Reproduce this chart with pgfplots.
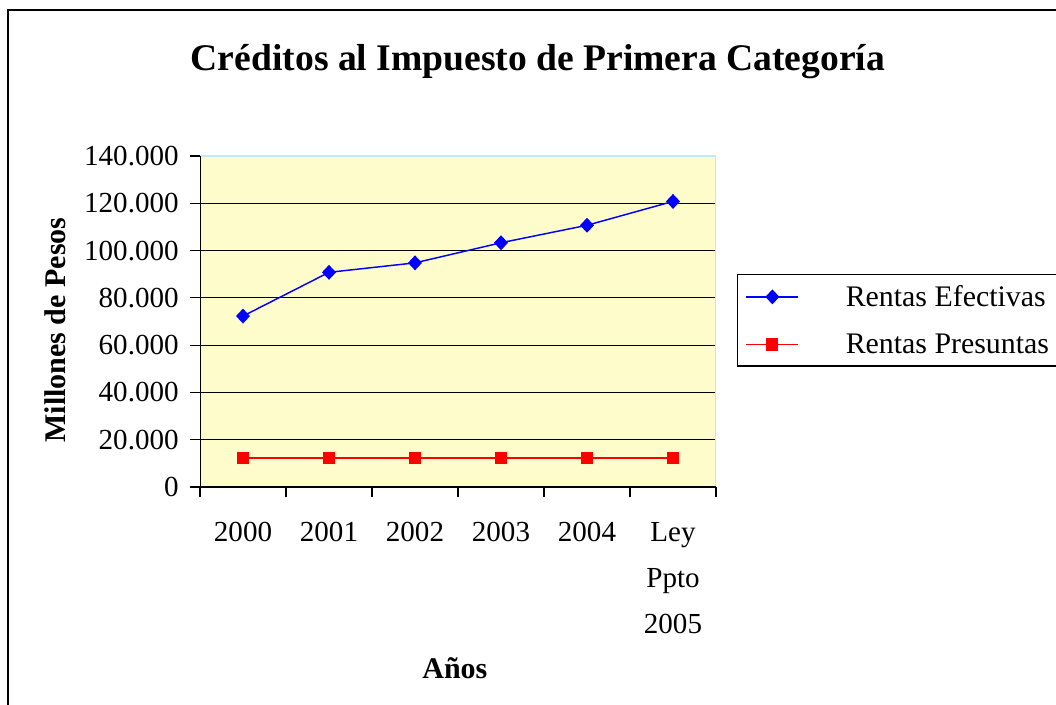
\documentclass[border=0pt]{standalone}
\usepackage{fontspec}
\setmainfont{Liberation Serif}
\usepackage{pgfplots}
\pgfplotsset{compat=1.18}
\begin{document}
\begin{tikzpicture}
\useasboundingbox (0pt,0pt) rectangle (792pt,-528.75pt);
\draw[line width=1.5pt] (6pt,-7.5pt) rectangle (800pt,-540pt);
\node[font=\fontsize{28.2}{32}\selectfont\bfseries] at (403.5pt,-46.5pt) {Créditos al Impuesto de Primera Categoría};
\begin{axis}[
  at={(150pt,-365.25pt)}, anchor=south west,
  scale only axis, width=387pt, height=248.25pt,
  xmin=0.5, xmax=6.5, ymin=0, ymax=140000,
  xtick={0.5,1.5,...,6.5}, xticklabels={},
  extra x ticks={1,2,3,4,5,6},
  extra x tick labels={2000,2001,2002,2003,2004,{Ley\\Ppto\\2005}},
  extra x tick style={major tick length=0pt, grid=none},
  ytick={0,20000,40000,60000,80000,100000,120000,140000},
  yticklabels={0,20.000,40.000,60.000,80.000,100.000,120.000,140.000},
  scaled y ticks=false,
  ymajorgrids, grid style={black, line width=0.9pt},
  tick align=outside, major tick length=7.5pt,
  tick style={black, line width=0.9pt},
  xtick pos=bottom, ytick pos=left,
  axis line style={draw=none},
  axis background/.style={fill=yellow!20},
  tick label style={font=\fontsize{21.8}{34.5}\selectfont},
  x tick label style={align=center, yshift=-23pt},
  y tick label style={xshift=-5pt},
  ylabel={Millones de Pesos}, xlabel={Años},
  label style={font=\fontsize{22.5}{26}\selectfont\bfseries},
  ylabel style={at={(axis description cs:-0.281,0.474)}, anchor=center},
  xlabel style={at={(axis description cs:0.494,-0.547)}, anchor=center},
  legend style={at={(1.0407,0.6435)}, anchor=north west, draw=black, line width=1pt,
    font=\fontsize{22.4}{26}\selectfont, row sep=15pt, inner xsep=6pt, inner ysep=6pt,
    cells={anchor=west}},
  legend image code/.code={\draw[mark repeat=2,mark phase=2,#1] plot coordinates {(0pt,0pt)(19.5pt,0pt)(39pt,0pt)};},
]
\addplot[blue, line width=1.1pt, mark=diamond*, mark size=4.8pt, mark options={xscale=1.25}]
  coordinates {(1,72300)(2,90800)(3,94800)(4,103300)(5,110700)(6,120800)};
\addlegendentry{\hspace*{33pt}Rentas Efectivas\hspace*{14pt}}
\addplot[red, line width=1.1pt, mark=square*, mark size=4pt]
  coordinates {(1,12300)(2,12300)(3,12300)(4,12300)(5,12300)(6,12300)};
\addlegendentry{\hspace*{33pt}Rentas Presuntas\hspace*{14pt}}
\draw[cyan!25, line width=1pt] (rel axis cs:0,1) -- (rel axis cs:1,1) -- (rel axis cs:1,0);
\draw[black, line width=1pt] (rel axis cs:0,1) -- (rel axis cs:0,0) -- (rel axis cs:1,0);
\end{axis}
\end{tikzpicture}
\end{document}
